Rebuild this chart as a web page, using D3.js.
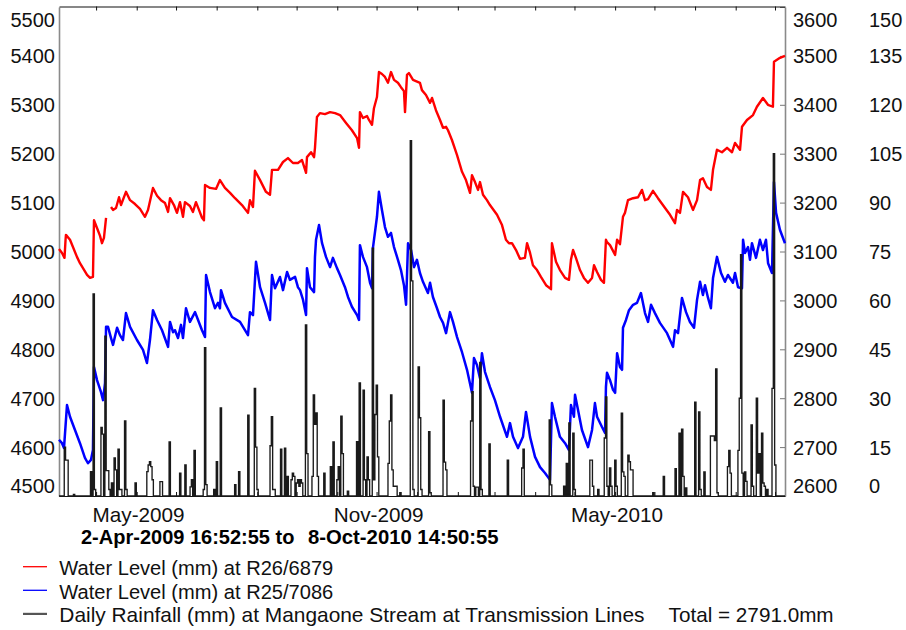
<!DOCTYPE html>
<html><head><meta charset="utf-8">
<script src="https://cdn.jsdelivr.net/npm/d3@7"></script>
<style>
body{margin:0;background:#fff;}
svg{display:block;font-family:"Liberation Sans",Arial,Helvetica,sans-serif;}
</style></head><body>
<svg id="c" width="906" height="630"></svg>
<script>
// ---- time span ----
const startTime = new Date(2009, 3, 2, 16, 52, 55);
const endTime = new Date(2010, 9, 8, 14, 50, 55);

// ---- tick labels ----
const leftTicks = [4500, 4600, 4700, 4800, 4900, 5000, 5100, 5200, 5300, 5400, 5500];
const rightTicks = [2600, 2700, 2800, 2900, 3000, 3100, 3200, 3300, 3400, 3500, 3600];
const rainTicks = [0, 15, 30, 45, 60, 75, 90, 105, 120, 135, 150];
const monthLabels = ["May-2009", "Nov-2009", "May-2010"];

// ---- Water Level (mm) at R26/6879 : days since start, level ----
const redDay = [0,2.3,4.2,5.0,5.3,8.4,13.7,16.0,21.4,23.7,25.9,26.7,29.0,31.3,32.8,34.3,35.9,37.8,39.7,41.2,43.5,45.8,47.3,51.1,54.2,58.0,61.8,65.6,67.9,71.7,74.8,77.8,80.9,83.2,84.7,87.7,90.0,92.3,94.6,96.1,99.9,102.2,104.5,106.8,109.1,110.6,111.4,115.2,119.8,122.8,126.6,130.5,134.3,139.6,144.2,145.7,148.0,149.5,153.4,157.9,161.0,162.5,167.1,170.9,174.7,178.5,182.3,185.4,188.5,189.2,192.3,194.6,195.3,196.8,199.1,202.9,206.8,210.6,214.4,219.0,223.5,227.4,228.9,229.6,231.9,235.0,236.5,238.8,240.3,242.6,244.1,246.4,248.7,251.0,253.3,255.6,258.6,260.9,263.2,264.0,265.5,267.0,270.1,275.4,276.9,280.0,283.1,284.6,287.6,290.7,293.0,295.3,296.8,299.8,303.7,307.5,310.5,313.6,315.1,317.4,319.7,321.2,323.5,326.5,328.8,334.2,338.0,341.0,343.3,345.6,348.7,351.7,355.5,357.1,359.4,361.6,364.7,367.7,371.6,375.4,376.1,379.2,382.2,386.1,389.1,390.6,392.2,394.4,397.5,400.5,403.6,406.7,408.2,410.5,413.5,415.8,417.3,418.1,420.4,424.3,425.8,428.0,430.3,431.8,434.1,438.0,441.8,444.8,447.1,449.4,453.2,457.0,462.4,466.2,470.0,471.5,473.8,476.1,479.9,483.7,486.8,489.1,491.3,494.4,497.4,499.0,502.0,505.8,509.7,513.5,515.8,519.6,521.1,524.9,529.5,532.5,537.1,540.9,544.7,545.5,550.1,553.9];
const redLevel = [5005,4997,4987,5024,5034,5024,4989,4976,4952,4946,4948,5064,5048,5032,5017,5028,5069,null,5091,5085,5089,5111,5095,5122,5105,5097,5087,5071,5085,5130,5114,5105,5099,5081,5109,5095,5079,5101,5071,5101,5093,5081,5101,5085,5069,5064,5136,5130,5128,5146,5130,5120,5109,5095,5079,5105,5091,5165,5146,5122,5116,5167,5167,5183,5191,5181,5181,5187,5161,5193,5203,5193,5212,5275,5283,5281,5285,5283,5279,5263,5248,5232,5212,5285,5273,5277,5269,5259,5293,5316,5367,5363,5357,5345,5367,5351,5345,5336,5328,5285,5361,5365,5351,5345,5330,5320,5304,5314,5289,5269,5253,5255,5248,5228,5197,5163,5146,5120,5156,5142,5126,5142,5116,5105,5095,5075,5054,5024,5017,5017,5003,4985,4987,5017,4997,4972,4962,4948,4931,4923,5017,4979,4962,4946,4942,4983,5003,4987,4962,4946,4936,4946,4972,4958,4942,4936,5024,5019,5013,4993,5024,5015,5071,5079,5105,5109,5111,5126,5105,5107,5124,5109,5089,5075,5058,5085,5079,5122,5111,5085,5105,5146,5150,5132,5126,5167,5208,5203,5212,5203,5222,5208,5255,5269,5279,5296,5314,5300,5296,5388,5396,5400];

// ---- Water Level (mm) at R25/7086 : days since start, level ----
const blueDay = [0,2.3,3.8,6.1,8.4,12.2,16.0,19.8,22.1,24.4,25.9,26.7,29.0,32.0,33.6,35.1,35.9,37.4,39.7,41.2,44.3,46.5,48.8,51.1,54.2,59.5,64.1,67.1,69.4,71.7,74.8,78.6,83.2,84.7,87.0,88.5,90.8,93.1,94.6,96.9,99.9,103.8,106.1,109.1,111.4,112.2,115.2,119.0,121.3,122.8,123.6,126.6,132.0,138.1,141.9,144.2,145.7,148.0,150.3,153.4,157.2,161.0,162.5,164.8,168.6,170.9,174.0,176.2,180.1,182.3,183.9,186.2,188.5,189.2,191.5,194.6,195.3,196.1,198.4,200.7,203.7,206.8,209.0,212.1,214.4,218.2,220.5,223.5,227.4,228.9,229.6,231.9,235.0,237.3,238.8,239.5,242.6,244.1,246.4,248.7,251.0,253.3,255.6,258.6,260.9,263.2,264.8,266.3,268.6,270.9,273.1,275.4,277.7,281.5,283.1,285.3,288.4,290.7,293.0,295.3,298.3,300.6,303.7,307.5,311.3,315.1,316.6,318.9,321.2,322.7,325.0,328.8,332.6,336.5,341.8,344.1,346.4,350.2,354.0,356.3,359.4,363.2,367.0,370.8,374.6,376.1,378.4,382.2,386.1,389.1,390.6,392.9,393.7,396.0,399.0,403.6,406.7,408.9,410.5,414.3,416.6,417.3,418.1,420.4,422.7,424.3,425.8,428.0,429.6,430.3,432.6,434.9,438.0,441.0,444.0,447.1,449.4,451.7,454.7,458.5,463.9,468.5,470.0,472.3,475.3,478.4,481.4,484.5,486.8,489.1,491.3,492.9,495.2,497.4,499.0,502.0,505.1,508.1,510.4,514.2,515.8,518.1,521.1,521.9,523.4,525.7,527.2,528.7,531.8,534.8,537.1,539.4,541.0,544.0,545.5,547.1,550.1,553.9];
const blueLevel = [2715,2708,2698,2786,2762,2735,2708,2678,2667,2674,2694,2864,2837,2813,2796,2831,2946,2946,2923,2909,2944,2929,2919,2974,2946,2919,2899,2872,2919,2980,2960,2939,2905,2956,2935,2939,2923,2950,2923,2984,2956,2976,2960,2939,2925,3052,3017,2984,2995,2984,3021,2995,2966,2956,2939,2929,2976,2970,3079,3027,2995,2960,3052,3025,3048,3021,3058,3042,3048,3027,3021,3001,2970,3066,3027,3017,3089,3124,3154,3117,3089,3068,3087,3066,3052,3027,3007,2987,2970,2960,3113,3089,3068,3036,3025,3107,3171,3222,3185,3150,3130,3138,3109,3083,3062,3031,2991,3117,3103,3068,3083,3056,3038,3015,3036,3007,2984,2966,2954,2933,2976,2956,2925,2894,2858,2811,2882,2868,2841,2892,2854,2823,2796,2762,2721,2749,2721,2698,2721,2772,2721,2680,2659,2647,2633,2790,2762,2721,2708,2694,2786,2762,2807,2776,2735,2700,2735,2790,2762,2741,2729,2823,2852,2837,2817,2811,2892,2864,2858,2944,2960,2980,2991,2995,3015,2974,2956,2991,2974,2954,2933,2905,2939,2933,3005,2976,2956,2944,3001,3038,3011,3031,3005,2984,3046,3089,3056,3038,3052,3036,3056,3027,3025,3124,3097,3109,3083,3117,3087,3124,3103,3124,3076,3056,3242,3179,3144,3117];

// ---- Daily Rainfall (mm): day index since start, mm (other days 0) ----
const rainDay = [4,5,6,11,24,26,27,32,33,35,36,37,38,40,42,43,45,46,47,50,51,58,67,68,69,70,71,77,78,84,92,96,100,101,103,110,111,112,118,120,123,134,137,144,149,150,151,161,162,163,164,169,172,174,177,178,179,181,182,183,184,185,188,189,193,194,195,196,197,202,207,209,212,213,215,216,220,227,229,232,233,235,236,239,240,241,242,243,251,252,253,254,255,256,257,260,268,269,270,274,275,276,282,283,293,294,295,314,315,316,318,319,321,322,328,342,353,354,374,375,385,387,389,392,393,405,406,407,411,416,417,418,420,421,424,425,429,430,431,434,435,436,437,453,461,470,473,475,476,478,485,488,489,492,497,498,499,500,501,502,510,511,512,518,519,520,521,523,524,528,529,532,533,534,536,537,538,540,544,545,546];
const rainMm = [15,11,11,0.5,7.5,62,2,21,19,49,7.8,7.8,2,4,11.7,8,14.4,2,2,23,2,4,7.5,9.5,10.5,9,5,4.4,4.4,16.6,7,9.5,2.8,5,14,2,45.5,3.5,2,10.5,27,3.5,7.5,24.8,33,15,2,15.4,24.3,2,2,14.4,14.7,6,5,7,6,4,5,3,5,4,52.5,13,6,31,22,25.5,6,7,9,16.6,5,9,24.5,13,1.5,16.7,34.7,32.5,5,12,5,76,5,25,34,12,10,23,31,8,3,3,3,1,109,66,2,39.6,24,2,19.7,1,29.4,10.4,8,23,32,3,2.7,2.7,41,2,16,11,8.6,14.4,23.3,3.4,3,10,22.4,19.3,2,11,11,3,2,17.8,30.4,3,8.6,3,11,3,25.4,7.4,6,12.5,10.5,8,8,1,6,8.4,19.3,20.5,6,2.5,28.8,25.8,2,7.4,18.4,18.4,18.4,17,39,1,9,14,7,14,30,74,7,7.4,4.5,21.8,3,30,7,13,19.3,4,3,2,33,105,9.5];

const legendItems = [
  {label: "Water Level (mm) at R26/6879", color: "#ff0000", w: 1.3, size: 20.1},
  {label: "Water Level (mm) at R25/7086", color: "#0000ff", w: 1.3, size: 20.1},
  {label: "Daily Rainfall (mm) at Mangaone Stream at Transmission Lines", color: "#555555", w: 2.2, size: 20.9}
];
const totalText = "Total = 2791.0mm";
const titleFrom = "2-Apr-2009 16:52:55 to";
const titleTo = "8-Oct-2010 14:50:55";

// ---- layout ----
const L = 59, R = 785, T = 7, B = 496;
const svg = d3.select("#c");
const FONT = '"Liberation Sans",Arial,Helvetica,sans-serif';
const dayMs = 86400000;
const toDate = d => new Date(startTime.getTime() + d * dayMs);
const intFmt = d3.format("d");

const x = d3.scaleTime().domain([startTime, endTime]).range([L, R]);
const yL = d3.scaleLinear().domain([4500, 5500]).range([B, T]);
const yR = d3.scaleLinear().domain([2600, 3600]).range([B, T]);
const yRain = d3.scaleLinear().domain([0, 150]).range([B, T]);
const clampY = v => Math.max(19, Math.min(485, v));

// left axis
const gL = svg.append("g").attr("transform", `translate(${L},0)`)
  .call(d3.axisLeft(yL).tickValues(leftTicks).tickFormat(intFmt).tickSize(0).tickPadding(4));
gL.attr("font-family", FONT).attr("font-size", 20).attr("color", "#111");
gL.select(".domain").attr("stroke", "#8a8a8a").attr("stroke-width", 1.6);
gL.selectAll(".tick text").attr("dy", "0.35em").attr("y", v => clampY(yL(v)) - yL(v));

// right axis (R25 scale)
const gR = svg.append("g").attr("transform", `translate(${R},0)`)
  .call(d3.axisRight(yR).tickValues(rightTicks).tickFormat(intFmt).tickSizeInner(-5).tickSizeOuter(0).tickPadding(8));
gR.attr("font-family", FONT).attr("font-size", 20).attr("color", "#111");
gR.select(".domain").attr("stroke", "#8a8a8a").attr("stroke-width", 1.6);
gR.selectAll(".tick line").attr("stroke", "#777");
gR.selectAll(".tick text").attr("dy", "0.35em").attr("y", v => clampY(yR(v)) - yR(v));

// rainfall axis
const gRain = svg.append("g").attr("transform", `translate(${R},0)`)
  .call(d3.axisRight(yRain).tickValues(rainTicks).tickFormat(intFmt).tickSize(0).tickPadding(84));
gRain.attr("font-family", FONT).attr("font-size", 20).attr("color", "#111");
gRain.select(".domain").remove();
gRain.selectAll(".tick text").attr("dy", "0.35em").attr("y", v => clampY(yRain(v)) - yRain(v));

// top month ticks
const months = d3.timeMonth.range(d3.timeMonth.ceil(startTime), endTime);
const gT = svg.append("g").attr("transform", `translate(0,${T - 0.5})`)
  .call(d3.axisTop(x).tickValues(months).tickSizeInner(-4).tickSizeOuter(0).tickFormat(""));
gT.attr("color", "#111");
gT.select(".domain").attr("stroke", "#111").attr("stroke-width", 1.2);

// bottom month axis
const fmt = d3.timeFormat("%b-%Y");
const gB = svg.append("g").attr("transform", `translate(0,${B})`)
  .call(d3.axisBottom(x).tickValues(months).tickSizeInner(-4).tickSizeOuter(0).tickPadding(11)
    .tickFormat(d => monthLabels.includes(fmt(d)) ? fmt(d) : ""));
gB.attr("font-family", FONT).attr("font-size", 20.7).attr("color", "#111");
gB.select(".domain").attr("stroke", "#111").attr("stroke-width", 1.2);
gB.selectAll(".tick text").attr("text-anchor", "start").attr("x", -4);

// water level lines
const redData = redDay.map((d, i) => ({t: toDate(d), v: redLevel[i]}));
const blueData = blueDay.map((d, i) => ({t: toDate(d), v: blueLevel[i]}));
svg.append("path").datum(redData)
  .attr("fill", "none").attr("stroke", "#ff0000").attr("stroke-width", 2.4)
  .attr("stroke-linejoin", "round")
  .attr("d", d3.line().defined(p => p.v !== null).x(p => x(p.t)).y(p => yL(p.v)));
svg.append("path").datum(blueData)
  .attr("fill", "none").attr("stroke", "#0000ff").attr("stroke-width", 2.5)
  .attr("stroke-linejoin", "round")
  .attr("d", d3.line().x(p => x(p.t)).y(p => yR(p.v)));

// rainfall step outline
const rainMap = new Map(rainDay.map((d, i) => [d, rainMm[i]]));
const nDays = Math.floor((endTime - startTime) / dayMs);
const rainData = d3.range(0, nDays + 1).map(d => ({t: toDate(d), v: rainMap.get(d) || 0}));
rainData.push({t: endTime, v: 0});
svg.append("path").datum(rainData)
  .attr("fill", "none").attr("stroke", "#1a1a1a").attr("stroke-width", 1.35)
  .attr("d", d3.line().curve(d3.curveStepAfter).x(p => x(p.t)).y(p => yRain(p.v)));

// time span title
svg.append("text").attr("x", 81).attr("y", 544.3).attr("font-family", FONT)
  .attr("font-size", 20).attr("font-weight", "bold").attr("fill", "#000").text(titleFrom);
svg.append("text").attr("x", 308).attr("y", 544.3).attr("font-family", FONT)
  .attr("font-size", 20.3).attr("font-weight", "bold").attr("fill", "#000").text(titleTo);

// legend
const lg = svg.append("g");
legendItems.forEach((it, i) => {
  const base = 575 + i * 23.6;
  lg.append("line").attr("x1", 23).attr("x2", 47).attr("y1", base - 8.3).attr("y2", base - 8.3)
    .attr("stroke", it.color).attr("stroke-width", it.w);
  lg.append("text").attr("x", 59.3).attr("y", base).attr("font-family", FONT)
    .attr("font-size", it.size).attr("fill", "#111").text(it.label);
});
lg.append("text").attr("x", 668.6).attr("y", 575 + 2 * 23.6).attr("font-family", FONT)
  .attr("font-size", 20.7).attr("fill", "#111").text(totalText);
</script>
</body></html>
